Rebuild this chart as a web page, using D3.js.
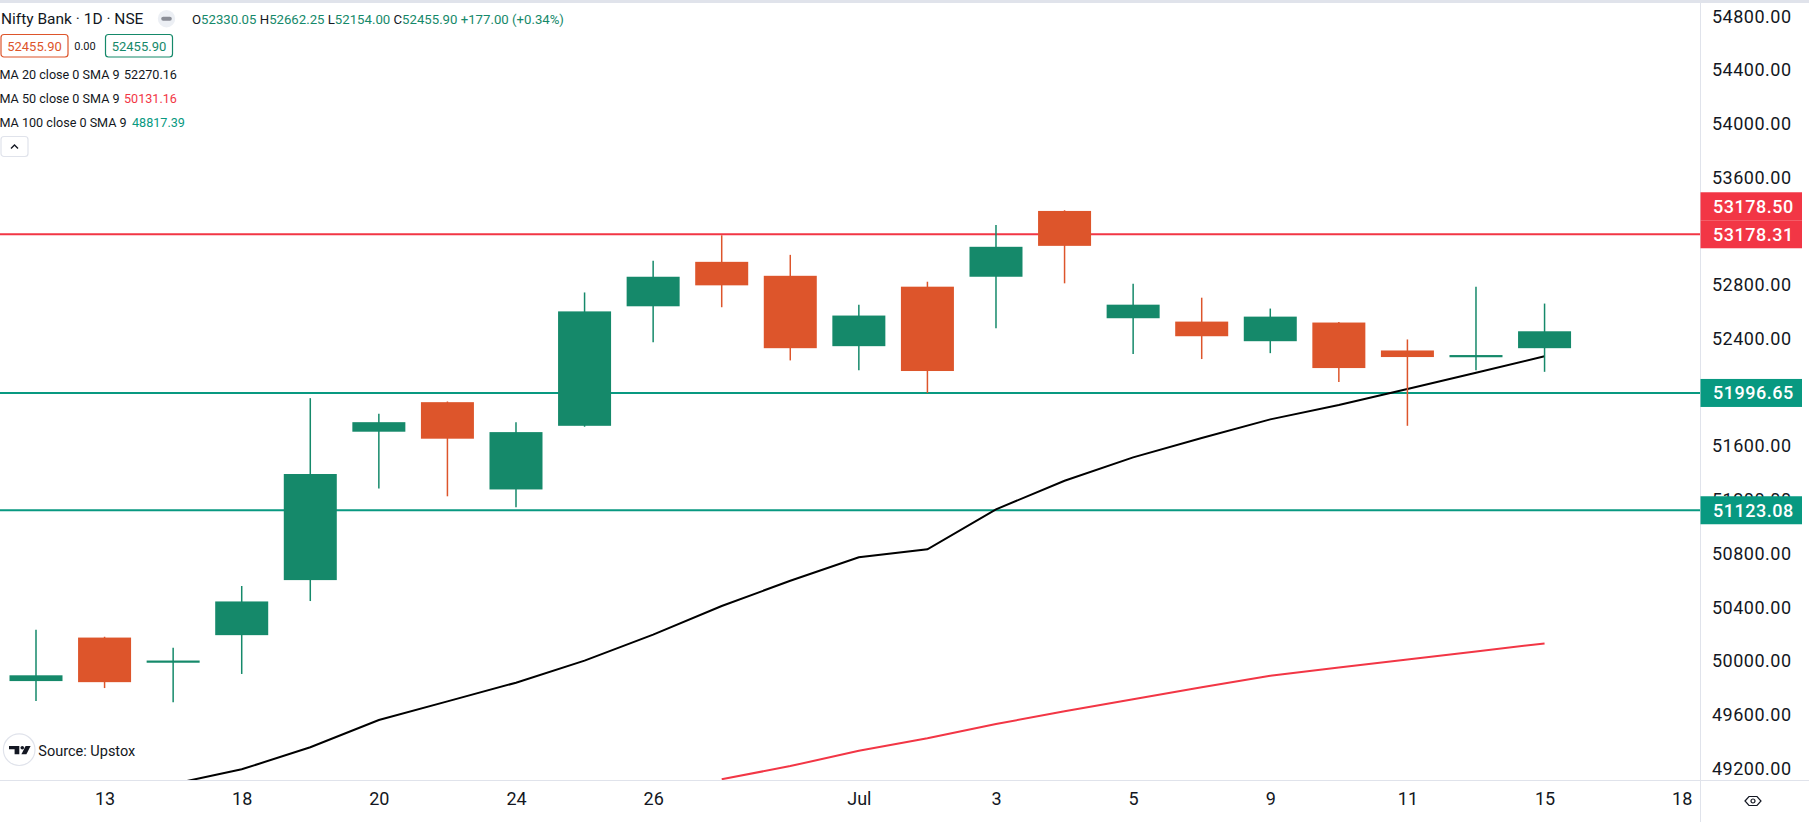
<!DOCTYPE html>
<html>
<head>
<meta charset="utf-8">
<script src="https://cdn.jsdelivr.net/npm/d3@7"></script>
<style>
html,body{margin:0;padding:0;background:#ffffff;overflow:hidden}
svg{display:block;font-family:Roboto,"Liberation Sans",sans-serif}
</style>
</head>
<body>
<svg id="chart" width="1809" height="822"></svg>
<script>
// ---------- data ----------
const dates = ["Jun 12","Jun 13","Jun 14","Jun 18","Jun 19","Jun 20","Jun 21","Jun 24","Jun 25","Jun 26","Jun 27","Jun 28",
               "Jul 1","Jul 2","Jul 3","Jul 4","Jul 5","Jul 8","Jul 9","Jul 10","Jul 11","Jul 12","Jul 15"];
const openVals  = [49851,50175,49994,50193,50603,51708,51928,51278,51752,52642,52973,52869,52345,52788,52862,53352,52553,52528,52382,52521,52313,52265,52330.05];
const highVals  = [50234,50181,50099,50559,51958,51841,51933,51779,52745,52981,53171,53025,52654,52825,53248,53357,52810,52706,52625,52525,52395,52788,52662.25];
const lowVals   = [49702,49799,49694,49904,50447,51286,51227,51145,51745,52375,52635,52239,52165,51997,52479,52813,52286,52249,52293,52078,51752,52165,52154.00];
const closeVals = [49894,49843,50004,50444,51393,51779,51656,51705,52604,52862,52798,52330,52573,52160,53085,53092,52654,52419,52565,52182,52264,52278.90,52455.90];
const ma20Vals  = [null,null,49085,49194,49358,49561,49700,49839,50003,50197,50410,50598,50773,50832,51130,51343,51517,51661,51800,51907,52026,52147,52270.16];
const ma50Vals  = [null,null,null,null,null,null,null,null,null,null,49120,49218,49332,49425,49531,49626,49715,49805,49890,49952,50012,50072,50131.16];
const ma100Last = 48817.39;
const priceTicks = [49200,49600,50000,50400,50800,51200,51600,52000,52400,52800,53200,53600,54000,54400,54800];
const xTickIndex  = [1,3,5,7,9,12,14,16,18,20,22,24];
const xTickLabels = ["13","18","20","24","26","Jul","3","5","9","11","15","18"];
const levelValues = [53178.31,51996.65,51123.08];
const levelLabels = ["53178.31","51996.65","51123.08"];
const levelKinds  = ["res","sup","sup"];
const highMarkLabel = "53178.50";

// ---------- style ----------
const W = 1809, H = 822, plotR = 1700, plotB = 780;
const UP = "#15896a", DOWN = "#dd552b", RED = "#f23645", TEAL = "#089981", TXT = "#131722", GRID = "#e0e3eb";

const svg = d3.select("#chart");
const x = d3.scaleLinear().domain([0,24]).range([36,1681.7]);
const y = d3.scaleLinear().domain([49200,54800]).range([768.5,16.5]);

svg.append("rect").attr("width",W).attr("height",H).attr("fill","#fff");
svg.append("defs").append("clipPath").attr("id","plotclip")
  .append("rect").attr("x",0).attr("y",0).attr("width",plotR).attr("height",plotB);

const plot = svg.append("g").attr("clip-path","url(#plotclip)");

// level lines
plot.selectAll("line.level").data(levelValues).join("line")
  .attr("class","level")
  .attr("x1",0).attr("x2",plotR)
  .attr("y1",d=>y(d)).attr("y2",d=>y(d))
  .attr("stroke",(d,i)=>levelKinds[i]==="res"?RED:TEAL)
  .attr("stroke-width",2);

// moving averages
const lineGen = arr => d3.line().defined(d=>d!=null).x((d,i)=>x(i)).y(d=>y(d))(arr);
plot.append("path").attr("d",lineGen(ma50Vals)).attr("fill","none").attr("stroke",RED).attr("stroke-width",2);
plot.append("path").attr("d",lineGen(ma20Vals)).attr("fill","none").attr("stroke","#000").attr("stroke-width",2);

// candles
const idx = d3.range(openVals.length);
const col = i => closeVals[i] >= openVals[i] ? UP : DOWN;
plot.selectAll("line.wick").data(idx).join("line").attr("class","wick")
  .attr("x1",i=>x(i)).attr("x2",i=>x(i))
  .attr("y1",i=>y(highVals[i])).attr("y2",i=>y(lowVals[i]))
  .attr("stroke",col).attr("stroke-width",1.5);
const bw = 53;
plot.selectAll("rect.body").data(idx).join("rect").attr("class","body")
  .attr("x",i=>x(i)-bw/2).attr("width",bw)
  .attr("y",i=>y(Math.max(openVals[i],closeVals[i])))
  .attr("height",i=>Math.max(2.2,Math.abs(y(openVals[i])-y(closeVals[i]))))
  .attr("fill",col);

// separators
svg.append("line").attr("x1",plotR+0.5).attr("x2",plotR+0.5).attr("y1",0).attr("y2",H).attr("stroke",GRID).attr("stroke-width",1);
svg.append("line").attr("x1",0).attr("x2",W).attr("y1",plotB+0.5).attr("y2",plotB+0.5).attr("stroke",GRID).attr("stroke-width",1.2);
svg.append("rect").attr("x",0).attr("y",0).attr("width",W).attr("height",3).attr("fill",GRID);

// price axis
const yAxis = d3.axisRight(y).tickValues(priceTicks).tickFormat(d3.format(".2f")).tickSize(0).tickPadding(12);
const ya = svg.append("g").attr("transform",`translate(${plotR},0)`).call(yAxis);
ya.select(".domain").remove();
ya.selectAll("text").attr("font-family","Roboto, sans-serif").attr("font-size",18)
  .attr("letter-spacing","0.5px").attr("fill",TXT);

// x axis
const xAxis = d3.axisBottom(x).tickValues(xTickIndex).tickFormat((d,i)=>xTickLabels[i]).tickSize(0).tickPadding(12);
const xa = svg.append("g").attr("transform",`translate(0,${plotB})`).call(xAxis);
xa.select(".domain").remove();
xa.selectAll("text").attr("font-family","Roboto, sans-serif").attr("font-size",18).attr("fill",TXT);

// price labels on axis
const lblH = 28;
const lab = svg.append("g");
function axisLabel(yc, text, color){
  lab.append("rect").attr("x",plotR+0.5).attr("y",yc-lblH/2).attr("width",101.5).attr("height",lblH).attr("fill",color);
  lab.append("text").attr("x",plotR+13).attr("y",yc).attr("dy","0.35em")
    .attr("font-size",18).attr("font-weight",500).attr("letter-spacing","0.5px").attr("fill","#fff").text(text);
}
levelValues.forEach((v,i)=>{
  if(levelKinds[i]==="res"){
    axisLabel(y(v)-lblH, highMarkLabel, RED);
  }
  axisLabel(y(v), levelLabels[i], levelKinds[i]==="res"?RED:TEAL);
});

// eye icon
const eye = svg.append("g").attr("transform","translate(1753,801)");
eye.append("path").attr("d","M-8,0 L-4,-4.5 L4,-4.5 L8,0 L4,4.5 L-4,4.5 Z").attr("fill","none").attr("stroke",TXT).attr("stroke-width",1.2);
eye.append("circle").attr("r",2).attr("fill","none").attr("stroke",TXT).attr("stroke-width",1.2);

// ---------- legend ----------
const L = svg.append("g");
const last = openVals.length-1;
const f2 = d3.format(".2f");
L.append("text").attr("x",1).attr("y",24).attr("font-size",15.5).attr("fill",TXT).text("Nifty Bank · 1D · NSE");
L.append("circle").attr("cx",166.5).attr("cy",18.7).attr("r",8.7).attr("fill","#eceff4");
L.append("rect").attr("x",161.2).attr("y",16.7).attr("width",10.6).attr("height",4).attr("rx",2).attr("fill","#8a8d96");
const chg = closeVals[last]-closeVals[last-1];
const pct = chg/closeVals[last-1]*100;
const ohlc = L.append("text").attr("x",192).attr("y",24).attr("font-size",13.2);
[["O",openVals[last]],["H",highVals[last]],["L",lowVals[last]],["C",closeVals[last]]].forEach((p,k)=>{
  ohlc.append("tspan").attr("fill",TXT).text((k?" ":"")+p[0]);
  ohlc.append("tspan").attr("fill",UP).text(f2(p[1]));
});
ohlc.append("tspan").attr("fill",UP).text(` ${chg>=0?"+":""}${f2(chg)} (${pct>=0?"+":""}${f2(pct)}%)`);

// bid / ask boxes
L.append("rect").attr("x",1).attr("y",34.5).attr("width",67).attr("height",22.5).attr("rx",3).attr("fill","#fff").attr("stroke",DOWN).attr("stroke-width",1.2);
L.append("text").attr("x",34.5).attr("y",50.5).attr("text-anchor","middle").attr("font-size",13).attr("fill",DOWN).text(f2(closeVals[last]));
L.append("text").attr("x",85).attr("y",50).attr("text-anchor","middle").attr("font-size",11).attr("fill",TXT).text("0.00");
L.append("rect").attr("x",105.5).attr("y",34.5).attr("width",67).attr("height",22.5).attr("rx",3).attr("fill","#fff").attr("stroke",UP).attr("stroke-width",1.2);
L.append("text").attr("x",139).attr("y",50.5).attr("text-anchor","middle").attr("font-size",13).attr("fill",UP).text(f2(closeVals[last]));

// MA rows
const maRows = [["MA 20 close 0 SMA 9", ma20Vals[last], TXT],["MA 50 close 0 SMA 9", ma50Vals[last], RED],["MA 100 close 0 SMA 9", ma100Last, TEAL]];
maRows.forEach((r,k)=>{
  const yy = 78.5 + k*24.3;
  L.append("text").attr("x",-0.5).attr("y",yy).attr("font-size",12.6).attr("fill",TXT).text(r[0]);
  L.append("text").attr("x",k===2?132:124).attr("y",yy).attr("font-size",12.6).attr("fill",r[2]).text(f2(r[1]));
});

// collapse button
L.append("rect").attr("x",1).attr("y",136.5).attr("width",27).attr("height",20).attr("rx",3).attr("fill","#fff").attr("stroke",GRID).attr("stroke-width",1.2);
L.append("path").attr("d","M11,148.5 L14.5,145 L18,148.5").attr("fill","none").attr("stroke",TXT).attr("stroke-width",1.4);

// source logo
const S = svg.append("g");
S.append("circle").attr("cx",19.2).attr("cy",749.7).attr("r",15.8).attr("fill","#fff").attr("stroke",GRID).attr("stroke-width",1.2);
S.append("path").attr("d","M9,746 H19.3 V754.3 H14.6 V749.3 H9 Z").attr("fill",TXT);
S.append("circle").attr("cx",22.3).attr("cy",747.8).attr("r",1.8).attr("fill",TXT);
S.append("path").attr("d","M25.6,746 H30.6 L26.4,754.3 H21.4 Z").attr("fill",TXT);
S.append("text").attr("x",38.3).attr("y",755.5).attr("font-size",14.5).attr("fill",TXT).text("Source: Upstox");
</script>
</body>
</html>
